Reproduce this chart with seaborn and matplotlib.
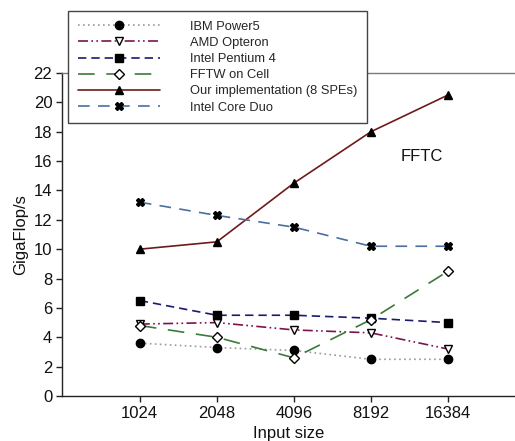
import matplotlib
matplotlib.use("Agg")
import matplotlib.pyplot as plt
import seaborn as sns
import pandas as pd

sizes = ["1024", "2048", "4096", "8192", "16384"]
ibm_power5 = [3.6, 3.3, 3.1, 2.5, 2.5]
amd_opteron = [4.9, 5.0, 4.5, 4.3, 3.2]
intel_p4 = [6.5, 5.5, 5.5, 5.3, 5.0]
fftw_cell = [4.8, 4.0, 2.6, 5.2, 8.5]
our_impl = [10.0, 10.5, 14.5, 18.0, 20.5]
intel_core_duo = [13.2, 12.3, 11.5, 10.2, 10.2]

series_names = ["IBM Power5", "AMD Opteron", "Intel Pentium 4", "FFTW on Cell",
                "Our implementation (8 SPEs)", "Intel Core Duo"]
series_values = [ibm_power5, amd_opteron, intel_p4, fftw_cell, our_impl, intel_core_duo]

sns.set_theme(style="white")
plt.rcParams['font.family'] = ['Liberation Sans', 'DejaVu Sans']

styles = {
    "IBM Power5": dict(color="#9a9a9a", dashes=(1, 2), marker="o", mfc="black", mec="black", ms=6),
    "AMD Opteron": dict(color="#7a1450", dashes=(6, 2, 1, 2, 1, 2), marker="v", mfc="white", mec="black", ms=6),
    "Intel Pentium 4": dict(color="#1a1a70", dashes=(5, 3), marker="s", mfc="black", mec="black", ms=5.3),
    "FFTW on Cell": dict(color="#3b7a3b", dashes=(10, 7), marker="D", mfc="white", mec="black", ms=5.3),
    "Our implementation (8 SPEs)": dict(color="#6e1a1a", dashes=None, marker="^", mfc="black", mec="black", ms=6),
    "Intel Core Duo": dict(color="#4a6fa0", dashes=(7, 5), marker="X", mfc="black", mec="black", ms=6),
}

fig = plt.figure(figsize=(5.15, 4.41), dpi=100)
ax = fig.add_axes([62 / 515, (441 - 396) / 441, 1 - 62 / 515, (396 - 73) / 441])

positions = list(range(len(sizes)))
for name, vals in zip(series_names, series_values):
    st = styles[name]
    df = pd.DataFrame({"x": positions, "y": vals})
    kw = dict(color=st["color"], marker=st["marker"], markerfacecolor=st["mfc"],
              markeredgecolor=st["mec"], markersize=st["ms"], linewidth=1.2,
              markeredgewidth=1.0, label=name)
    sns.lineplot(data=df, x="x", y="y", ax=ax, **kw)
    l = ax.lines[-1]
    if st["dashes"] is not None:
        l.set_dashes(st["dashes"])

ax.set_xlim(-1.01, 4.87)
ax.set_ylim(0, 22)
ax.set_xticks(positions)
ax.set_xticklabels(sizes)
ax.set_yticks(range(0, 23, 2))
ax.tick_params(axis="both", which="both", direction="out", length=4, width=1,
               colors="#222222", labelsize=12, left=True, bottom=True, pad=3)
for lab in ax.get_xticklabels() + ax.get_yticklabels():
    lab.set_color("#111111")

ax.spines["left"].set_color("#222222")
ax.spines["bottom"].set_color("#222222")
ax.spines["top"].set_color("#7a7a7a")
ax.spines["right"].set_visible(False)
for s in ["left", "bottom", "top"]:
    ax.spines[s].set_linewidth(1.0)

ax.set_xlabel("Input size", fontsize=12, labelpad=4, color="#111111")
ax.set_ylabel("GigaFlop/s", fontsize=12, labelpad=4, color="#111111")

ax.text(3.66, 16.3, "FFTC", fontsize=12, ha="center", va="center", color="#111111")

leg = ax.legend(loc="upper left", bbox_to_anchor=(68 / 515, 1 - 11 / 441),
                bbox_transform=fig.transFigure, fontsize=9.3, frameon=True,
                fancybox=False, shadow=False, handlelength=6.4, handletextpad=2.3,
                labelspacing=0.32, borderpad=0.75, borderaxespad=0)
leg.get_frame().set_edgecolor("#444444")
leg.get_frame().set_linewidth(1.0)
leg.get_frame().set_alpha(1)
leg.set_zorder(10)

fig.savefig("out.png", dpi=100)
